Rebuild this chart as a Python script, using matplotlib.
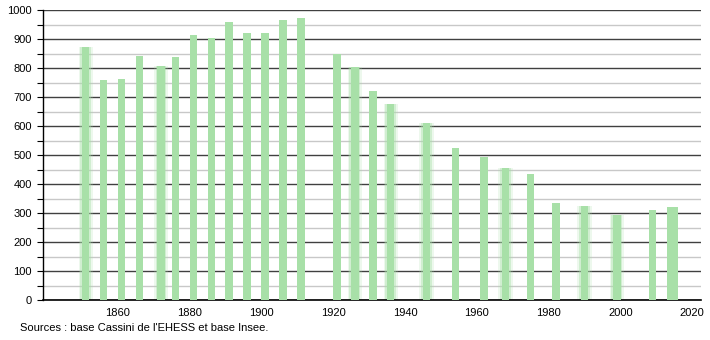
import matplotlib
matplotlib.use('Agg')
import matplotlib.pyplot as plt
from matplotlib.ticker import MultipleLocator

plt.rcParams['font.family'] = ['Liberation Sans', 'DejaVu Sans']

# census years and population
years = [1851, 1856, 1861, 1866, 1872, 1876, 1881, 1886, 1891, 1896,
         1901, 1906, 1911, 1921, 1926, 1931, 1936, 1946, 1954, 1962,
         1968, 1975, 1982, 1990, 1999, 2009, 2014, 2015]
population = [871, 759, 762, 841, 808, 839, 914, 902, 960, 922,
              922, 967, 972, 847, 802, 722, 676, 609, 525, 493,
              456, 436, 334, 324, 293, 311, 322, 322]
x_ticks = [1860, 1880, 1900, 1920, 1940, 1960, 1980, 2000, 2020]
# bars that look soft-edged in the reference
soft = [1851, 1872, 1926, 1936, 1946, 1968, 1990, 1999]

bar_color = '#a8e0a8'

fig = plt.figure(figsize=(7.1, 3.4), dpi=100)
ax = fig.add_axes([43 / 710, 40 / 340, 657.7 / 710, 290 / 340])
ax.set_axisbelow(True)

ax.bar(years, population, width=2.1, color=bar_color, zorder=3)
for y, p in zip(years, population):
    if y in soft:
        ax.bar(y, p, width=3.0, color=bar_color, alpha=0.4, zorder=2.5, linewidth=0)
        ax.bar(y, p, width=4.0, color=bar_color, alpha=0.2, zorder=2.4, linewidth=0)

ax.set_xlim(1839.1, 2022.4)
ax.set_ylim(0, 1000)
ax.set_xticks(x_ticks)
ax.yaxis.set_major_locator(MultipleLocator(100))
ax.yaxis.set_minor_locator(MultipleLocator(50))

ax.grid(axis='y', which='major', color='#404040', linewidth=1.0)
ax.grid(axis='y', which='minor', color='#c8c8c8', linewidth=1.0)

for s in ['top', 'right']:
    ax.spines[s].set_visible(False)
ax.spines['left'].set_linewidth(1.0)
ax.spines['bottom'].set_linewidth(1.2)

ax.tick_params(axis='x', length=0, labelsize=8, pad=6)
ax.tick_params(axis='y', which='major', length=4, width=0.8, labelsize=8, pad=4)
ax.tick_params(axis='y', which='minor', length=4, width=0.8)

fig.text(20 / 710, 1 - 328 / 340, "Sources : base Cassini de l'EHESS et base Insee.",
         fontsize=8, va='center', ha='left')

fig.savefig('out.png', dpi=100)
